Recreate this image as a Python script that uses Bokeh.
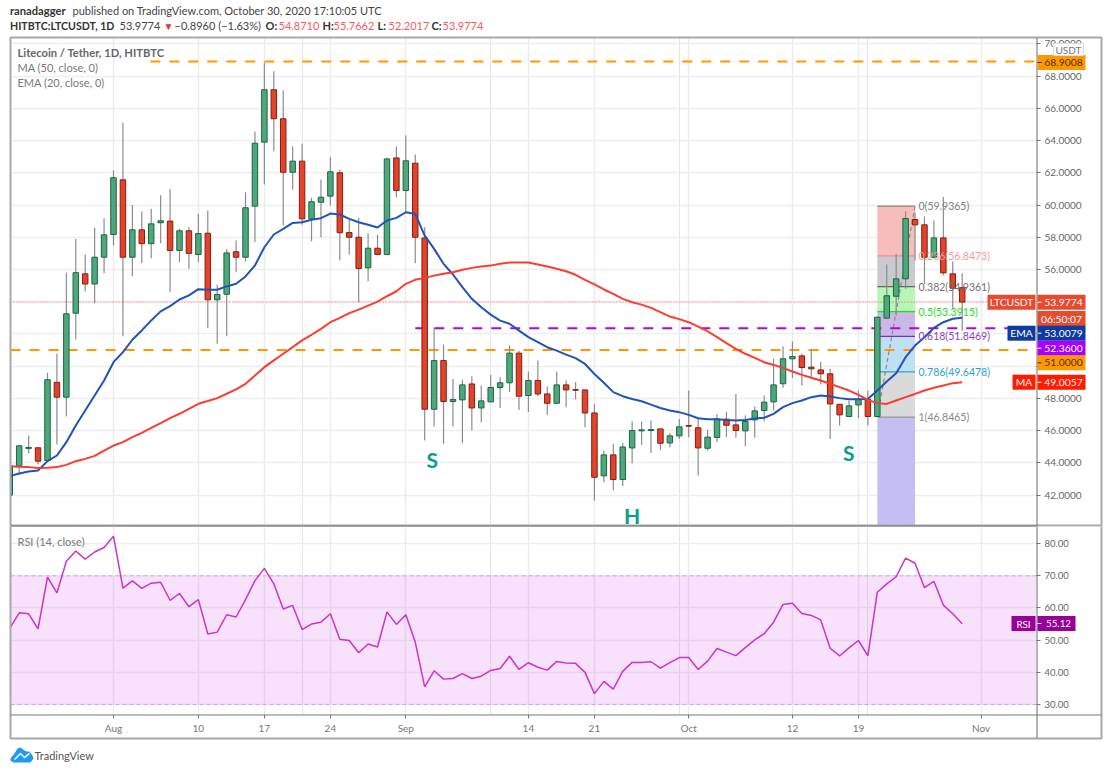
from bokeh.embed import file_html
from bokeh.resources import INLINE
from bokeh.plotting import figure
from bokeh.layouts import column
from bokeh.core.properties import value
from bokeh.models import (BoxAnnotation, Label, FixedTicker, Grid, LinearAxis, PolyAnnotation, NumeralTickFormatter)

# ---------- data (days counted from 1 Aug 2020; first candle is 21 Jul) ----------
first_day = -11
open_ = [42.0,43.8,44.9,44.94,44.15,49.0,48.08,53.29,55.73,55.1,56.76,58.17,61.56,56.76,58.46,57.6,58.9,59.0,57.18,58.4,56.93,58.25,54.12,54.46,57.1,56.76,59.93,63.9,67.15,65.35,62.03,62.72,59.14,60.17,60.55,62.0,
         58.29,58.0,56.1,57.32,56.93,62.92,60.9,62.59,57.96,47.33,50.35,47.81,47.91,48.9,47.41,47.79,48.68,48.97,50.81,48.18,49.11,48.28,47.7,48.84,48.55,48.53,47.1,43.2,44.5,42.97,44.93,45.99,46.01,46.11,45.24,45.68,
         46.32,46.18,44.91,45.58,46.71,46.36,45.99,46.67,47.25,47.79,48.91,50.46,50.64,49.94,49.77,49.53,47.64,46.88,47.6,47.95,46.88,52.98,54.34,55.42,59.1,58.77,56.76,57.96,55.73,54.871]
high_ = [43.8,45.1,45.7,44.98,49.6,50.77,55.8,57.9,56.93,58.59,59.18,62.14,65.1,60.0,59.6,59.76,60.6,61.0,58.52,58.62,59.45,59.66,55.05,57.26,57.8,60.79,64.56,68.82,68.3,67.1,63.63,63.8,60.45,61.58,62.97,62.2,
         59.08,59.2,58.25,58.15,62.9,63.63,64.31,63.13,58.62,52.38,51.34,49.21,49.15,49.38,48.8,49.46,49.32,51.28,50.97,49.67,50.35,48.74,49.67,49.11,49.01,48.53,47.66,44.77,45.18,45.24,46.57,46.57,46.63,46.11,45.86,46.73,
         48.49,46.8,46.05,47.04,47.15,48.28,46.94,47.5,48.18,50.46,51.24,51.53,50.77,51.04,50.27,49.84,47.64,47.87,48.49,48.49,53.04,56.31,56.97,59.62,59.55,59.29,59.04,60.49,56.5,55.7662]
low_ = [42.0,43.3,44.58,43.9,44.1,45.14,46.88,51.66,54.63,53.9,55.77,57.49,51.86,55.6,56.4,56.7,57.63,54.6,56.45,56.04,56.45,52.36,51.39,51.86,55.83,56.5,57.7,61.27,63.34,58.73,60.94,58.77,57.75,58.0,59.97,56.56,
        56.93,53.95,55.27,56.93,56.9,60.48,59.55,56.39,45.39,46.26,45.18,46.26,45.22,46.01,46.52,47.77,47.41,48.39,47.29,47.15,48.14,46.98,47.7,47.46,47.95,46.21,41.66,42.8,42.29,42.57,43.98,45.12,44.62,44.81,44.97,45.49,
        45.6,43.22,44.77,45.29,45.6,45.56,45.04,45.56,46.59,47.25,48.66,49.26,48.8,49.32,48.86,45.49,46.32,46.84,46.77,46.32,46.88,52.94,53.14,54.8,56.56,55.11,56.66,55.63,53.56,52.2017]
close_ = [43.8,45.06,44.96,44.11,49.16,48.08,53.25,55.8,55.1,56.76,58.15,61.69,56.76,58.46,57.6,58.83,59.02,57.18,58.4,57.0,58.23,54.12,54.45,57.03,56.76,59.83,63.83,67.15,65.35,62.03,62.72,59.14,60.2,60.48,62.06,58.28,
          58.0,56.06,57.32,56.93,62.86,60.9,62.74,58.0,47.33,50.35,47.81,47.93,48.84,47.41,47.85,48.68,48.97,50.81,48.14,49.11,48.28,47.7,48.84,48.53,48.51,47.1,43.11,44.5,42.97,44.99,46.01,46.05,46.07,45.22,45.68,46.24,
          46.28,44.93,45.6,46.73,46.34,46.01,46.57,47.23,47.77,48.84,50.46,50.6,49.92,49.84,49.53,47.66,46.98,47.54,47.95,46.88,53.04,54.37,55.42,59.16,58.77,56.76,57.96,55.79,54.84,53.9774]
ema20 = [43.18,43.34,43.47,43.53,44.11,44.46,45.29,46.32,47.25,48.18,49.11,50.25,50.87,51.64,52.22,52.84,53.4,53.73,54.14,54.39,54.78,54.74,54.74,54.95,55.11,55.57,56.25,57.38,58.17,58.52,58.89,58.93,59.08,59.18,59.47,59.41,
         59.14,58.93,58.77,58.6,59.04,59.2,59.55,59.45,58.1,57.28,56.35,55.69,54.9,54.18,53.66,53.2,52.83,52.63,52.21,51.8,51.49,51.18,50.97,50.72,50.5,50.14,49.52,48.97,48.39,48.14,47.97,47.83,47.62,47.41,47.25,47.15,
         46.98,46.77,46.71,46.71,46.67,46.63,46.67,46.75,46.8,47.04,47.46,47.71,47.87,48.08,48.18,48.12,48.02,47.95,47.95,47.97,48.49,49.05,49.57,50.56,51.28,51.8,52.38,52.73,52.94,53.0079]
ma50 = [43.8,43.76,43.74,43.68,43.7,43.74,43.88,44.11,44.25,44.44,44.77,45.08,45.29,45.6,45.87,46.18,46.47,46.78,47.05,47.36,47.67,47.84,48.02,48.29,48.56,48.91,49.42,49.94,50.36,50.77,51.18,51.6,51.95,52.32,52.73,53.0,
        53.29,53.51,53.76,54.01,54.34,54.65,55.11,55.36,55.48,55.62,55.73,55.83,55.98,56.1,56.18,56.24,56.35,56.43,56.43,56.43,56.31,56.18,56.04,55.89,55.67,55.36,55.07,54.76,54.49,54.18,53.97,53.82,53.62,53.35,53.08,52.92,
        52.73,52.46,52.17,51.8,51.43,51.08,50.77,50.52,50.25,50.08,49.9,49.67,49.46,49.28,49.11,48.91,48.7,48.49,48.22,47.91,47.71,47.66,47.87,48.08,48.28,48.49,48.66,48.8,48.95,49.0057]
rsi14 = [53.7,58.5,58.2,53.5,69.6,64.7,74.5,77.7,75.2,77.4,78.8,82.3,66.2,68.4,66.1,67.7,68.0,62.4,64.5,60.4,62.6,51.9,52.5,57.9,57.2,62.6,68.5,72.3,67.5,59.7,60.8,53.3,55.0,55.6,58.2,50.3,
         49.9,46.1,48.8,47.9,58.8,54.9,57.9,49.4,35.5,40.5,37.9,38.1,39.6,38.1,38.8,40.6,41.2,45.0,40.9,43.0,41.6,40.7,43.4,42.9,42.8,40.0,33.4,37.2,34.8,40.3,43.1,43.1,43.3,41.3,43.0,44.6,
         44.6,40.9,43.5,47.4,46.3,45.2,47.7,50.1,52.0,55.6,61.1,61.5,58.3,57.7,56.3,47.5,45.1,47.6,49.9,45.1,64.9,67.5,69.7,75.5,73.9,66.3,68.3,60.9,58.2,55.12]

time_ticks = [0, 9, 16, 23, 31, 44, 51, 61, 72, 79, 92]
time_labels = ["Aug", "10", "17", "24", "Sep", "14", "21", "Oct", "12", "19", "Nov"]
price_ticks = [42, 44, 46, 48, 50, 52, 54, 56, 58, 60, 62, 64, 66, 68, 70]
rsi_ticks = [30, 40, 50, 60, 70, 80]
fib_ratio = ["0", "0.236", "0.382", "0.5", "0.618", "0.786", "1"]
fib_price = [59.9365, 56.8473, 54.9361, 53.3915, 51.8469, 49.6478, 46.8465]
fib_line = ["#888888", "#f28b8b", "#666666", "#22dd22", "#8030b0", "#2aa0dc", "#999999"]
fib_fill = ["#f7bcbc", "#c9c9cf", "#b6f6b6", "#ccb8e6", "#bfe0f3", "#dadada"]
fib_days = (81, 85)
below_fib_fill = "#c5bef2"
level_orange_top = 68.9008
level_orange_low = 51.0
level_purple = 52.36
last_price = 53.9774

days = list(range(first_day, first_day + len(close_)))
FONT = "Lato"
OVERLAP = 14                            # the price canvas runs on behind the RSI canvas
W, H1, H2 = 1117, 526, 244
# visible plot area in the page, and the same edges on the data scales
LEFT, RIGHT_X, TOP, SEP, AX_BOT, OUT_BOT, OUT_R = 10, 1036, 37, 525, 714, 738, 1101
X_MIN, X_MAX = -10.92, 97.88            # day at LEFT / RIGHT_X
P_TOP, P_BOT = 70.39, 40.12             # price at TOP / SEP
R_TOP, R_BOT = 85.32, 26.89             # RSI at H1 / AX_BOT
XR = (-11.983, 106.47)                  # frame fills the whole canvas
P_MAX, P_MIN = 72.686, 39.188           # price at the canvas top / bottom


def new_fig(height, yr, label_size):
    f = figure(width=W, height=height, x_range=XR, y_range=yr, output_backend="svg", toolbar_location=None,
               y_axis_location="right", x_axis_location=None, min_border=0,
               background_fill_color="white", border_fill_color="white")
    f.outline_line_color = None
    f.ygrid.grid_line_color = "#eeeeee"
    f.ygrid.grid_line_width = 1.5
    f.add_layout(Grid(dimension=0, ticker=FixedTicker(ticks=time_ticks), grid_line_color="#ececec",
                      grid_line_width=1.5), "center")
    ax = f.yaxis[0]
    ax.fixed_location = X_MAX
    ax.axis_line_color = None
    ax.major_tick_line_color = "#777777"
    ax.major_tick_out = 4
    ax.major_tick_in = 0
    ax.minor_tick_line_color = None
    ax.major_label_text_color = "#666666"
    ax.major_label_text_font = FONT
    ax.major_label_text_font_size = label_size
    ax.major_label_standoff = 4
    return f


def mask(f, top, bottom, ymax, ymin):
    """White surround so that grids and marks stop at the plot area's edges."""
    f.quad(left=XR[0], right=XR[1], top=ymax, bottom=top, fill_color="white", line_color=None)
    f.quad(left=XR[0], right=XR[1], top=bottom, bottom=ymin, fill_color="white", line_color=None)
    f.quad(left=XR[0], right=X_MIN, top=ymax, bottom=ymin, fill_color="white", line_color=None)
    f.quad(left=X_MAX, right=XR[1], top=ymax, bottom=ymin, fill_color="white", line_color=None)


def box(f, y_off, x0, x1, y0, y1, fill=None, line=None, lw=1):
    f.add_layout(BoxAnnotation(left=x0, right=x1, top=y0 - y_off, bottom=y1 - y_off,
                               left_units="canvas", right_units="canvas", top_units="canvas", bottom_units="canvas",
                               fill_color=fill, fill_alpha=1 if fill else 0, line_color=line,
                               line_alpha=1 if line else 0, line_width=lw, level="overlay"))


def txt(f, y_off, x, y, s, color="#666666", size=11, align="left", bold=False):
    f.add_layout(Label(x=x, y=y - y_off, x_units="canvas", y_units="canvas", text=s, text_color=color,
                       text_font=FONT, text_font_size=f"{size}px", text_align=align, text_baseline="middle",
                       text_font_style="bold" if bold else "normal", level="overlay"))


# ---------- price pane ----------
p = new_fig(H1 + OVERLAP, (P_MIN, P_MAX), "10px")
p.yaxis[0].ticker = FixedTicker(ticks=price_ticks)
p.yaxis[0].formatter = NumeralTickFormatter(format="0.0000")
p.yaxis[0].major_label_overrides = {50: "", 52: "", 54: ""}

# Fibonacci retracement bands
p.quad(left=fib_days[0], right=fib_days[1], top=fib_price[:-1], bottom=fib_price[1:], fill_color=fib_fill,
       line_color=None)
p.quad(left=fib_days[0], right=fib_days[1], top=fib_price[-1], bottom=P_BOT, fill_color=below_fib_fill,
       line_color=None)
p.segment(x0=fib_days[0], x1=fib_days[1], y0=fib_price, y1=fib_price, line_color=fib_line, line_width=1.2)
p.line(x=list(fib_days), y=[fib_price[-1], fib_price[0]], line_color="#8a8a8a", line_dash="4 3", line_width=1.2)

# horizontal levels
p.line(x=[3.9, X_MAX], y=[level_orange_top] * 2, line_color="#ff9800", line_dash="10 9", line_width=2)
p.line(x=[X_MIN, X_MAX], y=[level_orange_low] * 2, line_color="#ff9800", line_dash="10 9", line_width=2)
p.line(x=[32, X_MAX], y=[level_purple] * 2, line_color="#b400f0", line_dash="10 9", line_width=2)
p.line(x=[X_MIN, X_MAX], y=[last_price] * 2, line_color="#ef5350", line_dash="1 2", line_width=1)

# candles
up = [c >= o for o, c in zip(open_, close_)]
p.segment(x0=days, x1=days, y0=low_, y1=high_, line_color="#8c8c8c", line_width=1.2)
p.vbar(x=[d for d, u in zip(days, up) if u], width=0.58,
       top=[c for c, u in zip(close_, up) if u], bottom=[o for o, u in zip(open_, up) if u],
       fill_color="#52a67e", line_color="#14693f", line_width=1)
p.vbar(x=[d for d, u in zip(days, up) if not u], width=0.58,
       top=[o for o, u in zip(open_, up) if not u], bottom=[c for c, u in zip(close_, up) if not u],
       fill_color="#e0442a", line_color="#8a1c10", line_width=1)

# averages
p.line(days, ema20, line_color="#2053b8", line_width=2)
p.line(days, ma50, line_color="#ff3b30", line_width=2)
mask(p, P_TOP, P_BOT, P_MAX, P_MIN)

# fib labels
fib_text_x = 918
for ratio, price, col in zip(fib_ratio, fib_price, ["#808080", "#f59a9a", "#707070", "#22dd22", "#9040c0", "#2aa0dc", "#8a8a8a"]):
    p.add_layout(Label(x=fib_text_x, y=price, x_units="canvas", y_units="data", text=f"{ratio}({price:.4f})",
                       text_color=col, text_font=FONT, text_font_size="10.5px", text_baseline="middle"))

# head and shoulders letters
for d, v, s in [(33.8, 44.21, "S"), (55.0, 40.72, "H"), (77.96, 44.65, "S")]:
    p.text(x=[d], y=[v], text=[s], text_color="#089c8a", text_font=value(FONT), text_font_size="21px",
           text_font_style="bold", text_align="center", text_baseline="middle")

# frame
box(p, 0, LEFT, OUT_R, TOP, SEP, line="#a8a8a8", lw=2)
box(p, 0, RIGHT_X, RIGHT_X + 1, TOP, H1, fill="#6e6e6e")
box(p, 0, LEFT, RIGHT_X, SEP, SEP + 1, fill="#787878")

# header
txt(p, 0, 9.5, 10, "ranadagger", "#333333", 11.2, bold=True)
txt(p, 0, 72, 10, "published on TradingView.com, October 30, 2020 17:10:05 UTC", "#444444", 11)
txt(p, 0, 9.5, 25, "HITBTC:LTCUSDT, 1D", "#333333", 10.6, bold=True)
txt(p, 0, 119, 25, "53.9774", "#444444", 11)
txt(p, 0, 163, 25, "▼", "#e53935", 10)
txt(p, 0, 174, 25, "−0.8960 (−1.63%)", "#444444", 11)
for x, s, bold in [(265, "O:", True), (278, "54.8710", False), (322, "H:", True), (333, "55.7662", False),
                   (377, "L:", True), (388, "52.2017", False), (431, "C:", True), (442, "53.9774", False)]:
    txt(p, 0, x, 25, s, "#333333" if bold else "#f55b5b", 11, bold=bold)

# legend
txt(p, 0, 17, 52, "Litecoin / Tether, 1D, HITBTC", "#666666", 11.2, bold=True)
txt(p, 0, 17, 67, "MA (50, close, 0)", "#777777", 11)
txt(p, 0, 17, 82, "EMA (20, close, 0)", "#777777", 11)


def tag(f, y_off, x0, x1, yc, s, fill, size=10.3, h=15, ink="white", tick=False):
    box(f, y_off, x0, x1, yc - h / 2, yc + h / 2, fill=fill)
    if tick:
        box(f, y_off, x0, x0 + 4, yc - 0.5, yc + 0.5, fill=ink)
    txt(f, y_off, (x0 + x1) / 2 + (2 if tick else 0), yc, s, ink, size, align="center", bold=False)


# price tags on the axis
tag(p, 0, 1037, 1085, 62, "68.9008", "#ff9800", ink="#4a3000", tick=True)
tag(p, 0, 1037, 1085, 301.7, "53.9774", "#e8492f", tick=True)
tag(p, 0, 987, 1035, 301.7, "LTCUSDT", "#e8492f")
tag(p, 0, 1037, 1085, 318, "06:50:07", "#e8492f")
tag(p, 0, 1037, 1085, 332.7, "53.0079", "#0d3ba0", tick=True)
tag(p, 0, 1007, 1035, 332.7, "EMA", "#0d3ba0")
tag(p, 0, 1037, 1085, 347.7, "52.3600", "#a800ff", tick=True)
tag(p, 0, 1037, 1085, 362.3, "51.0000", "#ff9800", ink="#4a3000", tick=True)
tag(p, 0, 1037, 1085, 381.7, "49.0057", "#ff1a00", tick=True)
tag(p, 0, 1012, 1035, 381.7, "MA", "#ff1a00")
box(p, 0, 1053, 1083, 43, 55, fill="white", line="#dddddd")
txt(p, 0, 1068, 49.5, "USDT", "#777777", 10, align="center")

# ---------- RSI pane ----------
q = new_fig(H2, (9.51, R_TOP), "9.5px")
q.margin = (-OVERLAP, 0, 0, 0)
q.background_fill_alpha = 0
q.border_fill_alpha = 0
q.yaxis[0].ticker = FixedTicker(ticks=rsi_ticks)
q.yaxis[0].formatter = NumeralTickFormatter(format="0.00")
q.harea(x1=[X_MIN, X_MIN], x2=[X_MAX, X_MAX], y=[30, 70], fill_color="#cc33e6", fill_alpha=0.15)
for lvl in (30, 70):
    q.line(x=[X_MIN, X_MAX], y=[lvl, lvl], line_color="#d0a8dc", line_dash="4 3", line_width=1)
q.line(days, rsi14, line_color="#cc33cc", line_width=1.5)
mask(q, R_TOP, R_BOT, R_TOP, 9.51)

time_axis = LinearAxis(ticker=FixedTicker(ticks=time_ticks), fixed_location=R_BOT,
                       major_label_overrides=dict(zip(time_ticks, time_labels)), axis_line_color=None,
                       major_tick_line_color="#777777", major_tick_out=4, major_tick_in=0,
                       minor_tick_line_color=None, major_label_text_color="#777777",
                       major_label_text_font=FONT, major_label_text_font_size="10px", major_label_standoff=3)
q.add_layout(time_axis, "below")

box(q, H1, LEFT, OUT_R, H1 - 6, OUT_BOT, line="#a8a8a8", lw=2)
box(q, H1, RIGHT_X, RIGHT_X + 1, H1, OUT_BOT, fill="#6e6e6e")
box(q, H1, LEFT, OUT_R, AX_BOT, AX_BOT + 1, fill="#787878")
txt(q, H1, 17, 541, "RSI (14, close)", "#777777", 11)
tag(q, H1, 1037, 1075, 623, "55.12", "#990099", size=9.8, tick=True)
tag(q, H1, 1011, 1035, 623, "RSI", "#990099", size=9.8)

# TradingView mark
q.add_layout(PolyAnnotation(xs=[10, 14, 17, 20, 24, 26, 29, 32, 33, 30, 13, 10],
                            ys=[y - H1 for y in [758, 753, 748, 747, 750, 751, 751, 755, 758, 762, 762, 760]],
                            xs_units="canvas", ys_units="canvas", fill_color="#1e9bf0", fill_alpha=1, line_color=None,
                            level="overlay"))
q.add_layout(PolyAnnotation(xs=[14, 20, 24, 29, 29, 24, 20, 14],
                            ys=[y - H1 for y in [758, 752, 756, 752, 754, 758, 754, 760]],
                            xs_units="canvas", ys_units="canvas", fill_color="white", fill_alpha=1, line_color=None,
                            level="overlay"))
txt(q, H1, 34, 755, "TradingView", "#555555", 11)

layout = column(p, q, spacing=0)
open("out.html", "w").write(file_html(layout, INLINE))
